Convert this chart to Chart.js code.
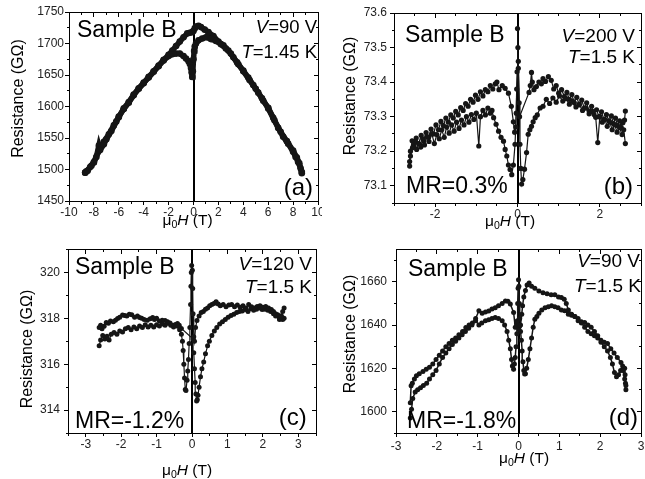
<!DOCTYPE html>
<html>
<head>
<meta charset="utf-8">
<script src="https://cdn.jsdelivr.net/npm/chart.js@4.4.1/dist/chart.umd.min.js"></script>
<style>
  html, body { margin: 0; padding: 0; background: #fff; }
  #fig { position: relative; width: 645px; height: 479px; overflow: hidden; }
  #fig canvas { position: absolute; }
</style>
</head>
<body>
<div id="fig">
  <canvas id="chartA" width="322" height="240" style="left:0;top:0;"></canvas>
  <canvas id="chartB" width="323" height="240" style="left:322px;top:0;"></canvas>
  <canvas id="chartC" width="322" height="239" style="left:0;top:240px;"></canvas>
  <canvas id="chartD" width="323" height="239" style="left:322px;top:240px;"></canvas>
</div>
<script>
// ---- (a) V=90 V, T=1.45 K ----
var aXTicks = [-10, -8, -6, -4, -2, 0, 2, 4, 6, 8, 10];
var aYTicks = [1450, 1500, 1550, 1600, 1650, 1700, 1750];
var aUpH = [-8.7, -8.5, -8.2, -8.0, -7.8, -7.6, -7.5, -7.2, -7.0, -6.6,
            -6.2, -6.0, -5.6, -5.2, -4.8, -4.4, -4.0, -3.6, -3.2, -2.8,
            -2.4, -2.0, -1.7, -1.4, -1.1, -0.8, -0.6, -0.4, -0.3, -0.2,
            -0.15, -0.1, -0.05, 0.0, 0.05, 0.1, 0.2, 0.4, 0.7, 1.0,
            1.4, 1.8, 2.2, 2.6, 3.0, 3.5, 4.0, 4.5, 5.0, 5.5,
            6.0, 6.5, 7.0, 7.5, 8.0, 8.3, 8.5, 8.7];
var aUpR = [1495, 1498, 1506, 1511, 1520, 1538, 1531, 1540, 1548, 1561,
            1576, 1583, 1597, 1607, 1619, 1629, 1638, 1646, 1655, 1664,
            1673, 1680, 1683, 1684, 1684, 1680, 1676, 1672, 1668, 1661,
            1654, 1647, 1656, 1675, 1688, 1695, 1700, 1705, 1708, 1710,
            1707, 1704, 1699, 1692, 1684, 1670, 1656, 1642, 1628, 1613,
            1597, 1578, 1560, 1545, 1530, 1519, 1510, 1496];
var aDownH = [8.7, 8.6, 8.4, 8.2, 8.0, 7.6, 7.2, 6.8, 6.4, 6.0,
              5.6, 5.2, 4.8, 4.4, 4.0, 3.6, 3.2, 2.8, 2.4, 2.0,
              1.6, 1.2, 0.9, 0.6, 0.4, 0.2, 0.1, 0.0, -0.1, -0.3,
              -0.5, -0.8, -1.1, -1.4, -1.7, -2.0, -2.4, -2.8, -3.2, -3.6,
              -4.0, -4.4, -4.8, -5.2, -5.6, -6.0, -6.4, -6.8, -7.2, -7.6,
              -8.0, -8.3, -8.6, -8.7];
var aDownR = [1494, 1502, 1512, 1520, 1528, 1541, 1552, 1566, 1582, 1598,
              1609, 1622, 1634, 1646, 1657, 1667, 1678, 1689, 1697, 1703,
              1712, 1718, 1722, 1726, 1728, 1727, 1724, 1720, 1718, 1717,
              1716, 1710, 1703, 1696, 1689, 1682, 1674, 1665, 1656, 1647,
              1637, 1628, 1618, 1606, 1596, 1584, 1570, 1556, 1544, 1530,
              1512, 1504, 1497, 1495];

// ---- (b) V=200 V, T=1.5 K ----
var bXTicks = [-2, 0, 2];
var bYTicks = [73.1, 73.2, 73.3, 73.4, 73.5, 73.6];
var bUpH = [-2.62, -2.6, -2.55, -2.5, -2.45, -2.4, -2.35, -2.3, -2.26, -2.2,
            -2.15, -2.08, -2.02, -1.96, -1.9, -1.84, -1.78, -1.72, -1.66, -1.6,
            -1.54, -1.48, -1.42, -1.36, -1.3, -1.24, -1.18, -1.12, -1.06, -1.0,
            -0.94, -0.9, -0.84, -0.78, -0.72, -0.66, -0.62, -0.58, -0.52, -0.46,
            -0.4, -0.34, -0.3, -0.26, -0.22, -0.18, -0.14, -0.1, -0.06, -0.03,
            -0.01, 0, 0.01, 0.02, 0.04, 0.06, 0.08, 0.1, 0.13, 0.17,
            0.22, 0.26, 0.3, 0.34, 0.38, 0.43, 0.48, 0.55, 0.62, 0.7,
            0.78, 0.86, 0.94, 1.02, 1.1, 1.18, 1.26, 1.34, 1.42, 1.5,
            1.58, 1.66, 1.74, 1.82, 1.9, 1.95, 2.0, 2.06, 2.12, 2.18,
            2.24, 2.3, 2.36, 2.42, 2.48, 2.54, 2.58, 2.62];
var bUpR = [73.157, 73.186, 73.21, 73.228, 73.205, 73.222, 73.212, 73.236, 73.218, 73.242,
            73.228, 73.25, 73.222, 73.248, 73.236, 73.262, 73.24, 73.27, 73.252, 73.276,
            73.258, 73.284, 73.266, 73.29, 73.276, 73.3, 73.284, 73.306, 73.292, 73.31,
            73.215, 73.3, 73.318, 73.305, 73.325, 73.31, 73.318, 73.297, 73.278, 73.258,
            73.24, 73.229, 73.205, 73.186, 73.16, 73.147, 73.132, 73.16, 73.22, 73.31,
            73.43, 73.555, 73.5, 73.44, 73.34, 73.22, 73.15, 73.105, 73.118, 73.148,
            73.196, 73.249, 73.262, 73.272, 73.285, 73.297, 73.305, 73.325, 73.33, 73.35,
            73.338, 73.354, 73.342, 73.36, 73.345, 73.352, 73.336, 73.345, 73.328, 73.336,
            73.318, 73.325, 73.308, 73.315, 73.298, 73.225, 73.3, 73.284, 73.292, 73.272,
            73.284, 73.262, 73.276, 73.255, 73.268, 73.248, 73.262, 73.222];
var bDownH = [2.62, 2.6, 2.56, 2.52, 2.48, 2.43, 2.38, 2.33, 2.28, 2.22,
              2.16, 2.1, 2.04, 1.98, 1.92, 1.86, 1.8, 1.74, 1.68, 1.62,
              1.56, 1.5, 1.44, 1.38, 1.32, 1.26, 1.2, 1.14, 1.07, 1.0,
              0.94, 0.88, 0.82, 0.75, 0.68, 0.62, 0.58, 0.52, 0.46, 0.4,
              0.36, 0.34, 0.31, 0.28, 0.05, 0.02, -0.02, -0.04, -0.07, -0.1,
              -0.15, -0.22, -0.3, -0.37, -0.45, -0.5, -0.54, -0.6, -0.66, -0.72,
              -0.78, -0.84, -0.9, -0.96, -1.02, -1.08, -1.14, -1.2, -1.26, -1.32,
              -1.38, -1.44, -1.5, -1.56, -1.62, -1.68, -1.74, -1.8, -1.86, -1.92,
              -1.98, -2.04, -2.1, -2.16, -2.22, -2.28, -2.34, -2.4, -2.46, -2.52,
              -2.56, -2.6, -2.62];
var bDownR = [73.316, 73.29, 73.282, 73.268, 73.288, 73.274, 73.296, 73.28, 73.302, 73.288,
              73.306, 73.292, 73.314, 73.3, 73.32, 73.306, 73.33, 73.316, 73.34, 73.325,
              73.348, 73.334, 73.356, 73.34, 73.364, 73.35, 73.37, 73.358, 73.378, 73.368,
              73.39, 73.38, 73.405, 73.416, 73.402, 73.41, 73.395, 73.4, 73.387, 73.378,
              73.4, 73.428, 73.39, 73.37, 73.3, 73.46, 73.38, 73.27, 73.255, 73.285,
              73.33, 73.368, 73.382, 73.39, 73.378, 73.4, 73.395, 73.38, 73.39, 73.372,
              73.378, 73.36, 73.372, 73.35, 73.362, 73.342, 73.35, 73.33, 73.338, 73.318,
              73.326, 73.305, 73.315, 73.296, 73.305, 73.284, 73.296, 73.274, 73.286, 73.262,
              73.276, 73.25, 73.264, 73.24, 73.254, 73.23, 73.246, 73.222, 73.238, 73.215,
              73.23, 73.2, 73.17];

// ---- (c) V=120 V, T=1.5 K ----
var cXTicks = [-3, -2, -1, 0, 1, 2, 3];
var cYTicks = [314, 316, 318, 320];
var cUpH = [-2.62, -2.58, -2.52, -2.46, -2.4, -2.34, -2.28, -2.2, -2.12, -2.04,
            -1.96, -1.88, -1.8, -1.72, -1.64, -1.56, -1.48, -1.4, -1.32, -1.24,
            -1.16, -1.08, -1.0, -0.92, -0.84, -0.76, -0.68, -0.6, -0.52, -0.46,
            -0.4, -0.35, -0.3, -0.27, -0.25, -0.23, -0.21, -0.19, -0.17, -0.14,
            -0.12, -0.1, -0.08, -0.06, -0.04, -0.03, -0.02, -0.01, 0.01, 0.02,
            0.03, 0.05, 0.07, 0.1, 0.14, 0.2, 0.26, 0.32, 0.38, 0.44,
            0.5, 0.56, 0.62, 0.68, 0.74, 0.8, 0.88, 0.96, 1.04, 1.12,
            1.2, 1.28, 1.36, 1.44, 1.52, 1.6, 1.68, 1.76, 1.84, 1.92,
            2.0, 2.08, 2.16, 2.24, 2.3, 2.36, 2.42, 2.47, 2.52, 2.56,
            2.6];
var cUpR = [316.8, 317.05, 317.25, 317.1, 317.22, 317.05, 317.3, 317.38, 317.3, 317.45,
            317.4, 317.55, 317.6, 317.5, 317.62, 317.55, 317.66, 317.6, 317.72, 317.62,
            317.7, 317.62, 317.72, 317.66, 317.75, 317.7, 317.78, 317.7, 317.62, 317.72,
            317.65, 317.5, 317.3, 317.0, 316.6, 316.0, 315.4, 314.9, 314.85, 315.3,
            315.7, 316.2, 316.9, 317.6, 318.6, 319.4, 320.0, 320.3, 320.1, 319.3,
            318.2, 317.2, 317.0, 317.6, 317.9, 318.1, 318.25, 318.3, 318.4, 318.45,
            318.55, 318.6, 318.65, 318.72, 318.62, 318.55, 318.6, 318.5, 318.58, 318.6,
            318.5, 318.58, 318.48, 318.55, 318.45, 318.6, 318.5, 318.45, 318.52, 318.55,
            318.48, 318.52, 318.45, 318.38, 318.3, 318.2, 318.1, 317.98, 318.1, 318.3,
            318.45];
var cDownH = [2.6, 2.56, 2.52, 2.47, 2.42, 2.36, 2.3, 2.22, 2.14, 2.06,
              1.98, 1.9, 1.82, 1.74, 1.66, 1.58, 1.5, 1.42, 1.34, 1.26,
              1.18, 1.1, 1.02, 0.94, 0.86, 0.78, 0.7, 0.63, 0.56, 0.49,
              0.44, 0.38, 0.33, 0.28, 0.24, 0.2, 0.17, 0.15, 0.13, 0.11,
              0.09, 0.07, 0.05, 0.03, -0.3, -0.36, -0.41, -0.48, -0.55, -0.62,
              -0.69, -0.76, -0.84, -0.92, -1.0, -1.06, -1.11, -1.18, -1.26, -1.35,
              -1.42, -1.48, -1.54, -1.62, -1.7, -1.77, -1.84, -1.9, -1.96, -2.04,
              -2.1, -2.16, -2.22, -2.3, -2.36, -2.42, -2.48, -2.54, -2.58, -2.62];
var cDownR = [318.0, 317.95, 318.1, 317.95, 318.15, 318.1, 318.2, 318.3, 318.35, 318.4,
              318.38, 318.45, 318.4, 318.35, 318.42, 318.3, 318.38, 318.32, 318.3, 318.25,
              318.18, 318.12, 318.05, 317.95, 317.85, 317.75, 317.6, 317.45, 317.25, 317.0,
              316.8, 316.45, 316.1, 315.8, 315.45, 315.0, 314.65, 314.45, 314.4, 314.7,
              315.2, 315.8, 316.5, 317.1, 317.56, 317.7, 317.77, 317.72, 317.7, 317.8,
              317.85, 317.9, 317.92, 317.88, 318.0, 317.95, 318.04, 317.98, 317.92, 317.95,
              318.0, 318.04, 318.1, 318.05, 318.15, 318.18, 318.1, 318.12, 318.14, 318.05,
              317.99, 317.92, 317.85, 317.88, 317.78, 317.82, 317.65, 317.55, 317.7, 317.6];

// ---- (d) V=90 V, T=1.5 K ----
var dXTicks = [-3, -2, -1, 0, 1, 2, 3];
var dYTicks = [1600, 1620, 1640, 1660];
var dUpH = [-2.65, -2.62, -2.59, -2.53, -2.47, -2.4, -2.33, -2.25, -2.18, -2.1,
            -2.02, -1.94, -1.86, -1.78, -1.7, -1.62, -1.54, -1.46, -1.38, -1.3,
            -1.22, -1.14, -1.05, -0.97, -0.9, -0.81, -0.73, -0.65, -0.57, -0.49,
            -0.4, -0.34, -0.28, -0.24, -0.2, -0.17, -0.15, -0.12, -0.1, -0.08,
            -0.06, -0.04, -0.03, -0.02, -0.01, 0, 0.01, 0.02, 0.03, 0.05,
            0.08, 0.1, 0.13, 0.17, 0.21, 0.26, 0.32, 0.4, 0.5, 0.6,
            0.7, 0.8, 0.89, 0.98, 1.05, 1.12, 1.17, 1.22, 1.3, 1.38,
            1.46, 1.54, 1.62, 1.7, 1.78, 1.86, 1.94, 2.02, 2.1, 2.18,
            2.26, 2.34, 2.42, 2.51, 2.56, 2.6, 2.63];
var dUpR = [1597, 1601, 1606, 1609, 1610, 1611, 1612, 1613, 1615, 1617,
            1619, 1622, 1625, 1627, 1629, 1631, 1632.5, 1634, 1635.5, 1637,
            1638.5, 1640, 1642, 1640, 1641, 1642, 1642.5, 1643, 1643.5, 1643,
            1642, 1640, 1637, 1633, 1629, 1624, 1621, 1619.5, 1622, 1625,
            1630, 1636, 1642, 1650, 1657, 1661, 1658, 1650, 1643, 1640,
            1645, 1649, 1653, 1656, 1658.5, 1659.5, 1658, 1657, 1655.8, 1655,
            1654.5, 1654, 1654, 1653, 1652.8, 1652, 1650, 1647, 1645, 1644,
            1642, 1641, 1639, 1637, 1636, 1635, 1634, 1633, 1632, 1631.5,
            1629, 1627, 1625, 1622.7, 1619, 1615, 1612];
var dDownH = [2.63, 2.62, 2.61, 2.6, 2.55, 2.5, 2.45, 2.4, 2.35, 2.3,
              2.25, 2.18, 2.1, 2.02, 1.94, 1.86, 1.78, 1.7, 1.62, 1.54,
              1.46, 1.38, 1.3, 1.22, 1.13, 1.05, 0.97, 0.89, 0.81, 0.73,
              0.65, 0.57, 0.5, 0.45, 0.4, 0.36, 0.32, 0.28, 0.24, 0.2,
              0.17, 0.15, 0.13, 0.11, 0.09, 0.07, 0.05, 0.03, 0.01, -0.02,
              -0.05, -0.08, -0.12, -0.2, -0.26, -0.32, -0.4, -0.49, -0.57, -0.65,
              -0.73, -0.81, -0.89, -0.97, -1.05, -1.13, -1.21, -1.29, -1.37, -1.46,
              -1.54, -1.62, -1.7, -1.78, -1.86, -1.94, -2.02, -2.1, -2.18, -2.26,
              -2.34, -2.43, -2.5, -2.55, -2.6, -2.63, -2.65];
var dDownR = [1610, 1613, 1617, 1620, 1621, 1619, 1617, 1616, 1618, 1622,
              1625, 1628, 1630, 1632, 1635, 1637, 1639, 1640, 1641.2, 1641.5,
              1643, 1644, 1644.5, 1645, 1646.6, 1647, 1648, 1648.5, 1648.9, 1648.5,
              1648, 1647, 1645.5, 1644, 1642.7, 1639, 1634, 1629, 1624, 1620,
              1617.5, 1617.3, 1619, 1623, 1628, 1633, 1637, 1639.6, 1638, 1640,
              1641, 1639, 1645.8, 1649.7, 1651, 1651.2, 1650, 1648.9, 1648, 1647.4,
              1646.5, 1646, 1645.5, 1646.6, 1643, 1641, 1640, 1638.9, 1637, 1635.5,
              1634, 1633, 1631.5, 1630, 1628, 1626, 1624, 1622, 1620.5, 1619.5,
              1618.5, 1617.5, 1616.5, 1615, 1613, 1611.9, 1604];

var INK = '#151515';
var FONT = '"Liberation Sans", Arial, sans-serif';
Chart.defaults.font.family = FONT;

// Panel layout: plot area inside each canvas, axes, and annotation text
var panels = {
    chartA: {
        area: { l: 69, t: 12, r: 320, b: 201 },
        x: { min: -10, max: 10, ticks: aXTicks, minor: 1, dec: 0, pad: 0 },
        y: { min: 1450, max: 1750, ticks: aYTicks, minor: 25, dec: 0, pad: 1 },
        sweeps: [[aUpH, aUpR], [aDownH, aDownR]], dot: 3.3, line: 5.5,
        yTitle: [17.5, 98.5], xTitle: [187.5, 225],
        texts: [
            { r: [['Sample B']], x: 77, y: 36.7, a: 'left', s: 23 },
            { r: [['V', 'i'], ['=90 V']], x: 317, y: 33.3, a: 'right', s: 18.5 },
            { r: [['T', 'i'], ['=1.45 K']], x: 317, y: 58.3, a: 'right', s: 18.5 },
            { r: [['(a)']], x: 313, y: 195, a: 'right', s: 24 }
        ]
    },
    chartB: {
        area: { l: 72, t: 13, r: 322, b: 203 },
        x: { min: -3, max: 3, ticks: bXTicks, minor: 0.5, dec: 0, pad: 0 },
        y: { min: 73.05, max: 73.6, ticks: bYTicks, minor: 0.05, dec: 1, pad: 3 },
        sweeps: [[bUpH, bUpR], [bDownH, bDownR]], dot: 2.6, line: 1.2,
        yTitle: [27, 96], xTitle: [188, 226],
        texts: [
            { r: [['Sample B']], x: 83, y: 41.7, a: 'left', s: 23 },
            { r: [['V', 'i'], ['=200 V']], x: 313, y: 41.7, a: 'right', s: 19 },
            { r: [['T', 'i'], ['=1.5 K']], x: 313, y: 63.3, a: 'right', s: 19 },
            { r: [['MR=0.3%']], x: 84, y: 193.3, a: 'left', s: 23 },
            { r: [['(b)']], x: 311, y: 194, a: 'right', s: 24 }
        ]
    },
    chartC: {
        area: { l: 68, t: 9.5, r: 316, b: 193 },
        x: { min: -3.5, max: 3.5, ticks: cXTicks, minor: 0.5, dec: 0, pad: 0 },
        y: { min: 313, max: 321, ticks: cYTicks, minor: 1, dec: 0, pad: 4 },
        sweeps: [[cUpH, cUpR], [cDownH, cDownR]], dot: 2.5, line: 1.2,
        yTitle: [26, 109], xTitle: [187, 234.5],
        texts: [
            { r: [['Sample B']], x: 75, y: 34.3, a: 'left', s: 23 },
            { r: [['V', 'i'], ['=120 V']], x: 312, y: 30, a: 'right', s: 19 },
            { r: [['T', 'i'], ['=1.5 K']], x: 312, y: 53.3, a: 'right', s: 19 },
            { r: [['MR=-1.2%']], x: 75, y: 188.3, a: 'left', s: 23 },
            { r: [['(c)']], x: 306.7, y: 185, a: 'right', s: 24 }
        ]
    },
    chartD: {
        area: { l: 74, t: 9.5, r: 322, b: 193 },
        x: { min: -3, max: 3, ticks: dXTicks, minor: 0.5, dec: 0, pad: 2 },
        y: { min: 1590, max: 1675, ticks: dYTicks, minor: 10, dec: 0, pad: 5 },
        sweeps: [[dUpH, dUpR], [dDownH, dDownR]], dot: 2.5, line: 1.5,
        yTitle: [27, 94], xTitle: [202, 222.5],
        texts: [
            { r: [['Sample B']], x: 86, y: 36, a: 'left', s: 23 },
            { r: [['V', 'i'], ['=90 V']], x: 318, y: 26.7, a: 'right', s: 19 },
            { r: [['T', 'i'], ['=1.5 K']], x: 319, y: 51.7, a: 'right', s: 19 },
            { r: [['MR=-1.8%']], x: 85, y: 188.3, a: 'left', s: 23 },
            { r: [['(d)']], x: 316, y: 185, a: 'right', s: 24 }
        ]
    }
};

function fontFor(size, style) {
    return (style === 'i' ? 'italic ' : '') + size + 'px ' + FONT;
}

// draw a line of mixed-style text (italic / subscript runs)
function drawRuns(ctx, runs, x, y, size, align) {
    var sizes = runs.map(function(r) { return r[1] === 's' ? size * 0.68 : size; });
    var widths = runs.map(function(r, i) {
        ctx.font = fontFor(sizes[i], r[1]);
        return ctx.measureText(r[0]).width;
    });
    var total = widths.reduce(function(s, w) { return s + w; }, 0);
    var cx = align === 'right' ? x - total : (align === 'center' ? x - total / 2 : x);
    ctx.textAlign = 'left';
    ctx.textBaseline = 'alphabetic';
    runs.forEach(function(r, i) {
        ctx.font = fontFor(sizes[i], r[1]);
        ctx.fillText(r[0], cx, r[1] === 's' ? y + size * 0.22 : y);
        cx += widths[i];
    });
}

function minorValues(o) {
    var out = [];
    var n = Math.round((o.max - o.min) / o.minor);
    for (var k = 0; k <= n; k++) out.push(o.min + k * o.minor);
    return out;
}

var frame = {
    id: 'frame',
    beforeDatasetsDraw: function(chart) {
        var ctx = chart.ctx, a = chart.chartArea;
        var x0 = Math.round(chart.scales.x.getPixelForValue(0));
        ctx.save();
        ctx.fillStyle = '#000';
        ctx.fillRect(x0 - 1, a.top, 2, a.bottom - a.top);
        ctx.restore();
    },
    afterDraw: function(chart) {
        var p = panels[chart.canvas.id];
        var ctx = chart.ctx, a = chart.chartArea;
        var xs = chart.scales.x, ys = chart.scales.y;
        var L = Math.floor(a.left), R = Math.floor(a.right);
        var T = Math.floor(a.top), B = Math.floor(a.bottom);
        ctx.save();
        ctx.fillStyle = '#000';
        // full box, crisp 1px
        ctx.fillRect(L, T, R - L + 1, 1);
        ctx.fillRect(L, B, R - L + 1, 1);
        ctx.fillRect(L, T, 1, B - T + 1);
        ctx.fillRect(R, T, 1, B - T + 1);
        // mirror major ticks, pointing in
        p.x.ticks.forEach(function(v) {
            var px = Math.floor(xs.getPixelForValue(v));
            ctx.fillRect(px, T, 1, 5);
        });
        p.y.ticks.forEach(function(v) {
            var py = Math.floor(ys.getPixelForValue(v));
            ctx.fillRect(R - 4, py, 5, 1);
        });
        // minor ticks
        minorValues(p.x).forEach(function(v) {
            var px = Math.floor(xs.getPixelForValue(v));
            ctx.fillRect(px, B, 1, 3);
            ctx.fillRect(px, T, 1, 3);
        });
        minorValues(p.y).forEach(function(v) {
            var py = Math.floor(ys.getPixelForValue(v));
            ctx.fillRect(L - 2, py, 3, 1);
            ctx.fillRect(R - 2, py, 3, 1);
        });

        p.texts.forEach(function(t) { drawRuns(ctx, t.r, t.x, t.y, t.s, t.a); });

        // axis titles
        drawRuns(ctx, [['\u03bc'], ['0', 's'], ['H', 'i'], [' (T)']], p.xTitle[0], p.xTitle[1], 15.5, 'center');
        ctx.translate(p.yTitle[0], p.yTitle[1]);
        ctx.rotate(-Math.PI / 2);
        drawRuns(ctx, [['Resistance (G\u03a9)']], 0, 16 * 0.36, 16, 'center');
        ctx.restore();
    }
};

function axis(o, dir, size) {
    return {
        type: 'linear',
        min: o.min,
        max: o.max,
        afterBuildTicks: function(s) {
            s.ticks = o.ticks.map(function(v) { return { value: v }; });
        },
        afterFit: function(s) {
            if (dir === 'x') s.height = size; else s.width = size;
            s.paddingLeft = s.paddingRight = s.paddingTop = s.paddingBottom = 0;
        },
        grid: { drawOnChartArea: false, drawTicks: true, tickLength: 4, tickWidth: 1, color: '#000' },
        border: { display: true, color: '#000', width: 1 },
        ticks: {
            autoSkip: false, maxRotation: 0, minRotation: 0,
            padding: o.pad, color: '#222', font: { size: 12 },
            callback: function(v) { return Number(v).toFixed(o.dec); }
        }
    };
}

function buildPanel(id) {
    var p = panels[id];
    var canvas = document.getElementById(id);
    var W = canvas.width, H = canvas.height;
    new Chart(canvas, {
        type: 'scatter',
        data: {
            datasets: p.sweeps.map(function(s) {
                return {
                    data: s[0].map(function(h, i) { return { x: h, y: s[1][i] }; }),
                    showLine: true,
                    borderColor: INK,
                    backgroundColor: INK,
                    borderWidth: p.line,
                    pointRadius: p.dot,
                    pointBorderWidth: 0
                };
            })
        },
        options: {
            responsive: false,
            animation: false,
            events: [],
            layout: { padding: { left: 0, top: p.area.t, right: W - p.area.r, bottom: 0 } },
            plugins: { legend: { display: false }, tooltip: { enabled: false } },
            scales: {
                x: axis(p.x, 'x', H - p.area.b),
                y: axis(p.y, 'y', p.area.l)
            }
        },
        plugins: [frame]
    });
}

['chartA', 'chartB', 'chartC', 'chartD'].forEach(buildPanel);
</script>
</body>
</html>
